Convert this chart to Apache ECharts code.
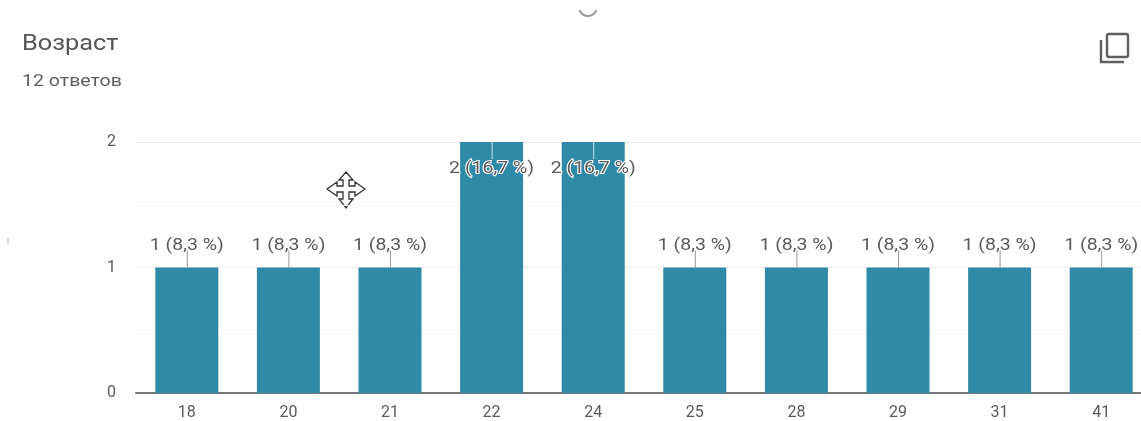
<!DOCTYPE html>
<html><head><meta charset="utf-8">
<style>html,body{margin:0;padding:0;background:#fff;overflow:hidden}#c{width:1141px;height:421px}</style>
<script src="https://cdn.jsdelivr.net/npm/echarts@6/dist/echarts.min.js"></script>
</head><body><div id="c"></div>
<script>
const categories = ['18','20','21','22','24','25','28','29','31','41'];
const counts = [1,1,1,2,2,1,1,1,1,1];
const shares = ['8,3','8,3','8,3','16,7','16,7','8,3','8,3','8,3','8,3','8,3'];
const yTicks = [0,1,2];
const titleText = 'Возраст';
const subtitleText = '12 ответов';
const BAR = '#2f8aa8', TXT = '#5a5a5a';
const chart = echarts.init(document.getElementById('c'), null, {renderer:'canvas'});
chart.setOption({
  animation:false,
  backgroundColor:'#fff',
  grid:{left:136,width:1016,top:142,height:251,containLabel:false,outerBoundsMode:'none'},
  xAxis:{type:'category',data:categories,
    axisLine:{show:true,lineStyle:{color:'#777',width:2}},
    axisTick:{show:false},
    axisLabel:{color:TXT,fontFamily:'Roboto',fontSize:16,margin:12,interval:0}},
  yAxis:{type:'value',min:yTicks[0],max:yTicks[2],interval:1,
    axisLine:{show:false},axisTick:{show:false},
    axisLabel:{color:TXT,fontFamily:'Roboto',fontSize:16,margin:20,padding:[2,0,0,0]},
    splitLine:{lineStyle:{color:'#efefef',width:1}},
    minorTick:{show:false,splitNumber:2},
    minorSplitLine:{show:true,lineStyle:{color:'#f8f8f8',width:1}}},
  series:[
    {type:'bar',barWidth:63,z:2,
     itemStyle:{color:BAR},
     data:counts},
    {type:'custom',z:5,silent:true,clip:false,
     data:counts.map((v,i)=>[i,v]),
     encode:{x:0,y:1},
     renderItem:function(params,api){
       const i=api.value(0), v=api.value(1);
       const p=api.coord([i,v]);
       const isTop=v===2;
       const y2=isTop?p[1]+17:p[1]-17;
       const ty=isTop?p[1]+27:p[1]-22;
       const txt=v+' ('+shares[i]+' %)';
       return {type:'group',children:[
         {type:'line',shape:{x1:p[0]+0.5,y1:p[1],x2:p[0]+0.5,y2:y2},
          style:{stroke:isTop?'#cfe3ea':'#9a9a9a',lineWidth:1}},
         {type:'text',x:p[0],y:ty,scaleX:1.18,
          style:{text:txt,fill:TXT,fontFamily:'Roboto',fontSize:16.5,align:'center',verticalAlign:'middle',
            stroke:isTop?'#fff':'transparent',lineWidth:isTop?2:0}}
       ]};
     }}
  ],
  graphic:[
    {type:'text',silent:true,x:22,y:44,scaleX:1.15,
     style:{text:titleText,fontFamily:'Roboto',fontSize:22,fill:'#555',verticalAlign:'middle'}},
    {type:'text',silent:true,x:22,y:82,scaleX:1.15,
     style:{text:subtitleText,fontFamily:'Roboto',fontSize:17,fill:'#5f5f5f',verticalAlign:'middle'}},
    {type:'arc',silent:true,shape:{cx:588,cy:7,r:9,startAngle:0.35,endAngle:Math.PI-0.35},
     style:{stroke:'#9c9c9c',fill:'none',lineWidth:2}},
    {type:'line',silent:true,shape:{x1:8,y1:237,x2:8,y2:245},style:{stroke:'#bbb',lineWidth:1}},
    {type:'rect',silent:true,shape:{x:1107,y:34,width:21,height:23,r:2},
     style:{stroke:'#5f5f5f',fill:'none',lineWidth:2.4}},
    {type:'polyline',silent:true,shape:{points:[[1101,40],[1101,62],[1124,62]]},
     style:{stroke:'#5f5f5f',fill:'none',lineWidth:2.4}},
    {type:'polygon',silent:true,
     shape:{points:[[346,172],[353,180],[349,180],[349,186],[355,186],[355,182],[365,189],[355,196],[355,192],[349,192],[349,199],[353,199],[346,208],[339,199],[343,199],[343,192],[337,192],[337,196],[327,189],[337,182],[337,186],[343,186],[343,180],[339,180]]},
     style:{stroke:'#333',fill:'#fff',lineWidth:1.3}}
  ]
});
</script></body></html>
